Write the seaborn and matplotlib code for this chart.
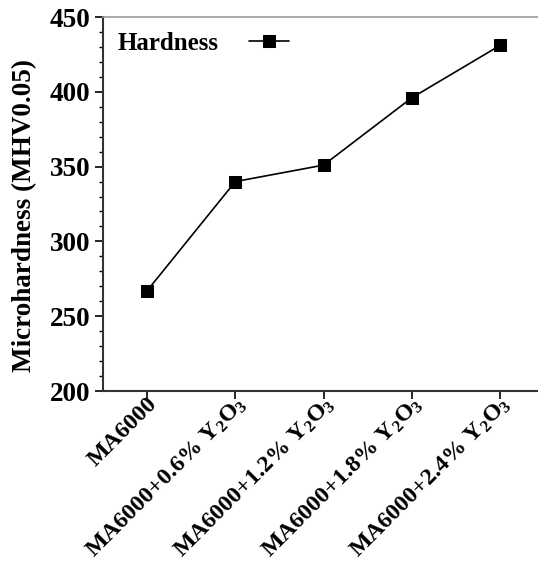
import matplotlib
matplotlib.use("Agg")
import matplotlib.pyplot as plt
import seaborn as sns
import pandas as pd
from matplotlib.ticker import MultipleLocator

categories = ["MA6000", "MA6000+0.6% Y$_2$O$_3$", "MA6000+1.2% Y$_2$O$_3$",
              "MA6000+1.8% Y$_2$O$_3$", "MA6000+2.4% Y$_2$O$_3$"]
hardness = [267, 340, 351, 396, 431]
series_name = "Hardness"

sns.set_style("ticks")
plt.rcParams["font.family"] = ["Liberation Serif", "DejaVu Serif"]
plt.rcParams["font.weight"] = "bold"
plt.rcParams["text.color"] = "black"
plt.rcParams["axes.labelcolor"] = "black"
plt.rcParams["xtick.color"] = "black"
plt.rcParams["ytick.color"] = "black"
plt.rcParams["mathtext.fontset"] = "custom"
plt.rcParams["mathtext.rm"] = "Liberation Serif:bold"
plt.rcParams["mathtext.it"] = "Liberation Serif:bold"
plt.rcParams["mathtext.bf"] = "Liberation Serif:bold"

df = pd.DataFrame({"x": range(len(categories)), "y": hardness, "s": series_name})

fig = plt.figure(figsize=(5.38, 5.63), dpi=100)
ax = fig.add_axes([0.1914, 0.3055, 0.82, 0.6643])
sns.lineplot(data=df, x="x", y="y", hue="s", palette=["black"], marker="s",
             markersize=9, linewidth=1.2, markeredgecolor="black", ax=ax)

ax.set_xlim(-0.5, 4.5)
ax.set_ylim(200, 450)
ax.yaxis.set_major_locator(MultipleLocator(50))
ax.yaxis.set_minor_locator(MultipleLocator(10))
ax.set_xticks(range(len(categories)))
ax.set_xticklabels(categories, rotation=45, ha="right", rotation_mode="anchor",
                   fontsize=17.3, fontweight="bold")
for lab in ax.get_yticklabels():
    lab.set_fontsize(19.5)
    lab.set_fontweight("bold")
ax.tick_params(axis="both", which="major", length=6, width=1.2, direction="out",
               colors="black", pad=3)
ax.tick_params(axis="x", which="major", pad=-4.5)
ax.tick_params(axis="y", which="minor", length=3, width=1.0, direction="out",
               colors="black")
ax.set_xlabel("")
ax.set_ylabel("Microhardness (MHV0.05)", fontsize=19.5, fontweight="bold", color="black")
ax.yaxis.set_label_coords(-0.150, 0.468)

for s in ["left", "bottom"]:
    ax.spines[s].set_color("#333333")
    ax.spines[s].set_linewidth(1.5)
ax.spines["top"].set_color("#999999")
ax.spines["top"].set_linewidth(1.2)
ax.spines["right"].set_visible(False)

leg = ax.legend(loc="upper left", frameon=False, markerfirst=False,
                prop={"size": 18, "weight": "bold"}, handlelength=1.6,
                handletextpad=1.2, borderaxespad=0.2, bbox_to_anchor=(0.0, 1.0))
for t in leg.get_texts():
    t.set_color("black")

fig.savefig("out.png", dpi=100)
